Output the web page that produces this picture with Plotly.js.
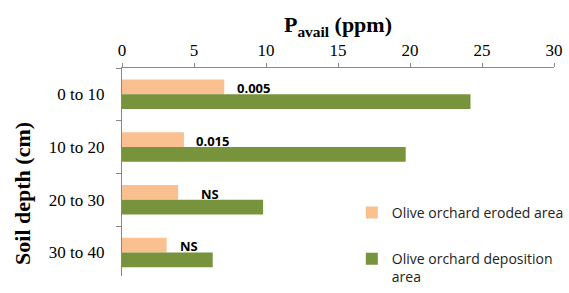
<!DOCTYPE html>
<html>
<head>
<meta charset="utf-8">
<script src="https://cdn.plot.ly/plotly-3.0.1.min.js"></script>
<style>html,body{margin:0;padding:0;background:#fff;}#chart{width:569px;height:293px;}</style>
</head>
<body>
<div id="chart"></div>
<script>
const depths = ["0 to 10", "10 to 20", "20 to 30", "30 to 40"];
const erodedValues = [7.1, 4.3, 3.9, 3.1];
const depositionValues = [24.2, 19.7, 9.8, 6.3];
const significance = ["0.005", "0.015", "NS", "NS"];
const seriesNames = ["Olive orchard eroded area", "Olive orchard deposition<br>area"];
const xTicks = [0, 5, 10, 15, 20, 25, 30];

// label placement style (pixels from end of eroded bar)
const labelShiftX = [11, 10, 21, 11];

const traces = [
  {type: "bar", orientation: "h", name: seriesNames[0], y: depths, x: erodedValues,
   marker: {color: "#FAC090"}, legendgroup: "a", hoverinfo: "skip"},
  {type: "bar", orientation: "h", name: seriesNames[1], y: depths, x: depositionValues,
   marker: {color: "#77933C"}, legendgroup: "b", hoverinfo: "skip"}
];

const annotations = significance.map((t, i) => ({
  x: erodedValues[i], y: depths[i], xref: "x", yref: "y",
  text: "<b>" + t + "</b>", showarrow: false, xanchor: "left", yanchor: "middle",
  xshift: labelShiftX[i], yshift: 6,
  font: {family: "Open Sans, sans-serif", size: 13, color: "#000"}
}));

// y-axis title (placed as rotated text, like the original which sits below centre)
annotations.push({
  text: "<b>Soil depth (cm)</b>", xref: "paper", yref: "paper",
  x: -0.229, y: 0.395, xanchor: "center", yanchor: "middle", textangle: -90,
  showarrow: false, font: {family: "Liberation Serif, serif", size: 22, color: "#000"}
});

const layout = {
  width: 569, height: 293,
  margin: {l: 122, r: 12.5, t: 68, b: 0, pad: 0},
  paper_bgcolor: "#fff", plot_bgcolor: "#fff",
  barmode: "group", bargap: 0.44, bargroupgap: 0,
  font: {family: "Liberation Serif, serif", size: 17, color: "#000"},
  xaxis: {
    side: "top", range: [0, 30], tickvals: xTicks, ticktext: xTicks.map(String),
    automargin: false,
    showgrid: false, zeroline: false, showline: true, linecolor: "#888", linewidth: 1,
    ticks: "outside", ticklen: 4, tickcolor: "#888",
    tickfont: {family: "Liberation Serif, serif", size: 17, color: "#000"},
    title: {text: "<b>P<sub>avail</sub> (ppm)</b>", standoff: 2,
            font: {family: "Liberation Serif, serif", size: 22, color: "#000"}}
  },
  yaxis: {
    type: "category", range: [3.447, -0.5], showgrid: false, zeroline: false,
    automargin: false,
    showline: true, linecolor: "#888", linewidth: 1,
    ticks: "outside", ticklen: 5, tickcolor: "#888", tickson: "boundaries",
    tickfont: {family: "Liberation Serif, serif", size: 17, color: "#000"},
    ticklabelstandoff: 13
  },
  showlegend: true,
  legend: {
    x: 0.532, y: 0.38, xanchor: "left", yanchor: "top",
    traceorder: "grouped", tracegroupgap: 25, valign: "top",
    bgcolor: "rgba(0,0,0,0)",
    font: {family: "Open Sans, sans-serif", size: 14, color: "#222"}
  },
  annotations: annotations
};

Plotly.newPlot("chart", traces, layout, {staticPlot: true, displayModeBar: false});
</script>
</body>
</html>
